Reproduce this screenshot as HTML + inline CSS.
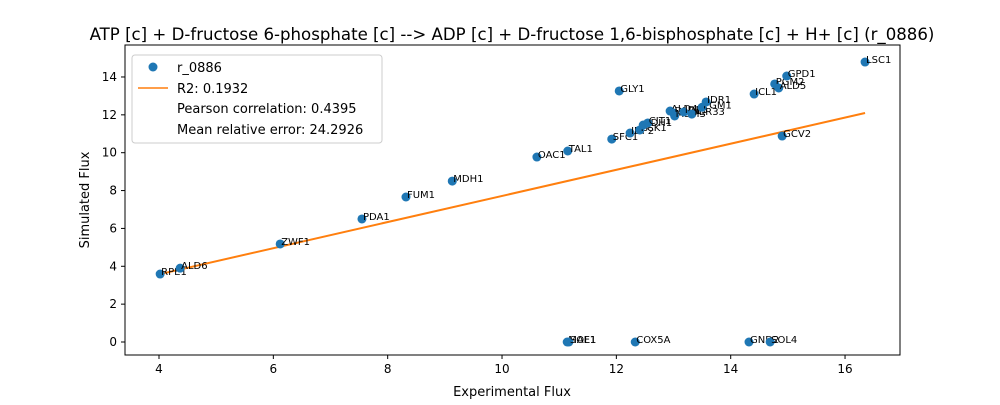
<!DOCTYPE html>
<html><head><meta charset="utf-8"><style>
body{margin:0;background:#fff;font-family:"Liberation Sans","DejaVu Sans",sans-serif;}
svg text{font-family:"DejaVu Sans","Liberation Sans",sans-serif;}
</style></head><body>
<svg id="chart" width="1000" height="400" xmlns="http://www.w3.org/2000/svg">
<rect width="1000" height="400" fill="#fff"/>
<text x="512" y="40" font-size="16.6" text-anchor="middle">ATP [c] + D-fructose 6-phosphate [c] --&gt; ADP [c] + D-fructose 1,6-bisphosphate [c] + H+ [c] (r_0886)</text>
<g id="marks"></g>
<rect x="125" y="45" width="775" height="310" fill="none" stroke="#000" stroke-width="1"/>
<g id="axes"></g>
<text x="512" y="396" font-size="13" text-anchor="middle">Experimental Flux</text>
<text transform="translate(89,200) rotate(-90)" font-size="13" text-anchor="middle">Simulated Flux</text>
<g>
<rect x="132" y="55" width="250" height="88" rx="3" fill="#fff" fill-opacity="0.8" stroke="#ccc"/>
<circle cx="153" cy="67" r="4.5" fill="#1f77b4"/>
<text x="177" y="72" font-size="13">r_0886</text>
<line x1="138" y1="88" x2="168" y2="88" stroke="#ff7f0e" stroke-width="1.5"/>
<text x="177" y="93" font-size="13">R2: 0.1932</text>
<text x="177" y="113" font-size="13">Pearson correlation: 0.4395</text>
<text x="177" y="134" font-size="13">Mean relative error: 24.2926</text>
</g>
</svg>
<script>
const labels=["RPE1","ALD6","ZWF1","PDA1","FUM1","MDH1","OAC1","TAL1","SFC1","IDP2","PCK1","SDH1","CIT1","ALD4","DLD1","MDH3","IDP3","YER33","PGM1","IDR1","GLY1","ICL1","PGM2","ALD5","GPD1","LSC1","GCV2","MAE1","SOL1","COX5A","GND2","SOL4"];
const expFlux=[4.02,4.37,6.12,7.55,8.32,9.13,10.61,11.15,11.92,12.24,12.41,12.47,12.55,12.94,13.0,13.02,13.18,13.32,13.5,13.57,12.05,14.41,14.77,14.84,14.98,16.35,14.9,11.14,11.17,12.33,14.32,14.69];
const simFlux=[3.59,3.9,5.18,6.5,7.66,8.5,9.77,10.09,10.72,11.04,11.2,11.46,11.57,12.2,12.1,11.94,12.15,12.04,12.4,12.68,13.26,13.1,13.63,13.42,14.05,14.79,10.88,0,0,0,0,0];
const xTicks=[4,6,8,10,12,14,16];
const yTicks=[0,2,4,6,8,10,12,14];
const fitSlope=0.69, fitIntercept=0.816;
const X=v=>159+(v-4)*57.17, Y=v=>342-v*18.93;
const NS="http://www.w3.org/2000/svg";
const marks=document.getElementById('marks'), axes=document.getElementById('axes');
function mk(t,a,p){const e=document.createElementNS(NS,t);for(const k in a)e.setAttribute(k,a[k]);p.appendChild(e);return e;}
const xmin=Math.min(...expFlux), xmax=Math.max(...expFlux);
const ln=mk('line',{x1:X(xmin),y1:Y(fitSlope*xmin+fitIntercept),x2:X(xmax),y2:Y(fitSlope*xmax+fitIntercept),stroke:'#ff7f0e','stroke-width':2},marks);


expFlux.forEach((v,i)=>{
 const c=mk('circle',{cx:X(v),cy:Y(simFlux[i]),r:4.5,fill:'#1f77b4'},marks);
 
 
 const t=mk('text',{x:X(v)+1,y:Y(simFlux[i])+1,'font-size':10},marks);
 t.textContent=labels[i];
 
 
});
xTicks.forEach(v=>{
 mk('line',{x1:X(v),y1:355,x2:X(v),y2:359,stroke:'#000'},axes);
 const t=mk('text',{x:X(v),y:373,'font-size':12,'text-anchor':'middle'},axes);
 t.textContent=v;
 
 
});
yTicks.forEach(v=>{
 mk('line',{x1:121,y1:Y(v),x2:125,y2:Y(v),stroke:'#000'},axes);
 const t=mk('text',{x:117,y:Y(v)+4,'font-size':12,'text-anchor':'end'},axes);
 t.textContent=v;
 
 
});
</script>
</body></html>
